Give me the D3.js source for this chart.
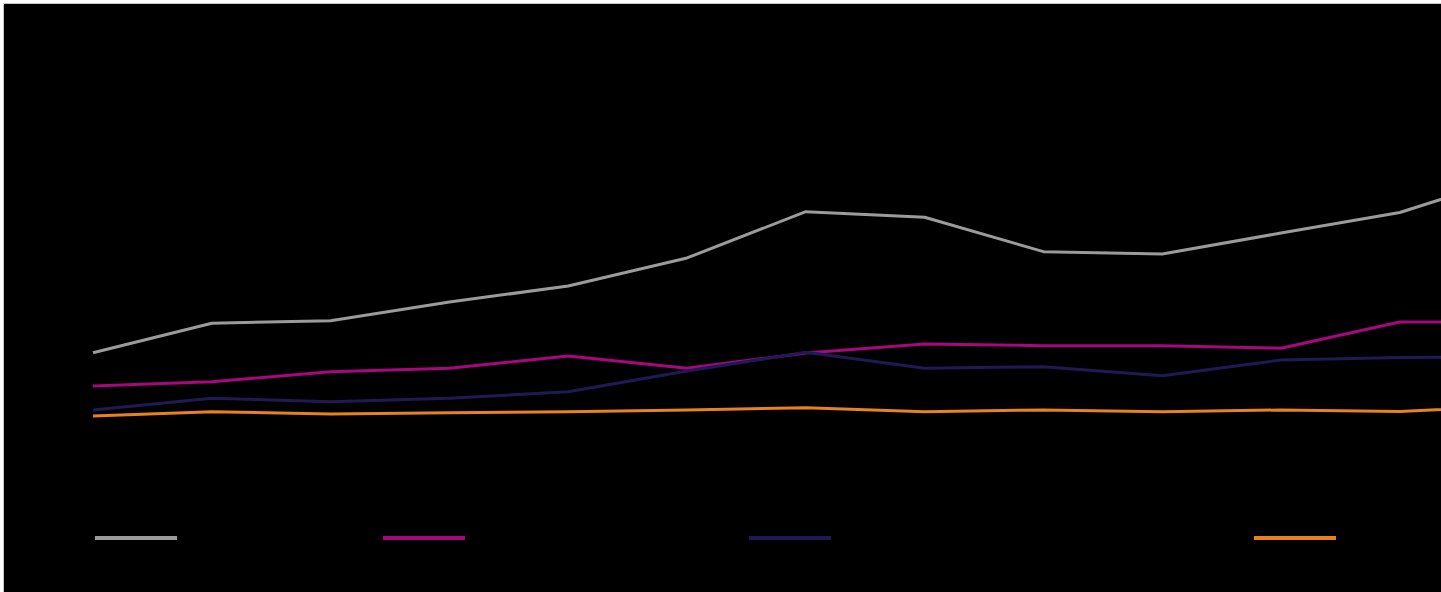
<!DOCTYPE html>
<html>
<head>
<meta charset="utf-8">
<script src="https://cdn.jsdelivr.net/npm/d3@7"></script>
<style>
  body { margin: 0; background: #fff; }
  svg { display: block; }
</style>
</head>
<body>
<svg id="chart"></svg>
<script>
// periods (13th one runs off the right edge)
const periods = d3.range(13);

const seriesNames = ['Series 1', 'Series 2', 'Series 3', 'Series 4'];
const seriesColors = ['#9b9b9b', '#a8077f', '#1f1a55', '#e8821e'];

const greyValues = [13.03, 16.30, 16.59, 18.67, 20.44, 23.56, 28.70, 28.08, 24.26, 24.00, 26.33, 28.61, 32.83];
const magentaValues = [9.33, 9.81, 10.92, 11.30, 12.67, 11.30, 13.00, 14.00, 13.81, 13.81, 13.52, 16.44, 16.44];
const navyValues = [6.67, 7.97, 7.59, 7.97, 8.70, 11.00, 13.08, 11.30, 11.48, 10.48, 12.22, 12.50, 12.61];
const orangeValues = [6.00, 6.48, 6.22, 6.37, 6.48, 6.67, 6.92, 6.48, 6.67, 6.48, 6.67, 6.50, 7.11];

const allSeries = [greyValues, magentaValues, navyValues, orangeValues];

const W = 1441, H = 592;
const svg = d3.select('#chart').attr('width', W).attr('height', H);

// frame
svg.append('rect')
    .attr('x', 3.5).attr('y', 3.5)
    .attr('width', W).attr('height', H)
    .attr('fill', '#000')
    .attr('stroke', '#c4c4c4')
    .attr('stroke-width', 1);

const x = d3.scaleLinear()
    .domain([0, 12])
    .range([93, 93 + 12 * 118.8]);

const y = d3.scaleLinear()
    .domain([0, 50])
    .range([470, 20]);

svg.append('clipPath').attr('id', 'plotclip')
    .append('rect').attr('x', 4).attr('y', 4).attr('width', W - 4).attr('height', H - 4);

const line = d3.line()
    .x((d, i) => x(periods[i]))
    .y(d => y(d));

svg.append('g')
    .attr('clip-path', 'url(#plotclip)')
    .selectAll('path')
    .data(allSeries)
    .enter().append('path')
    .attr('d', d => line(d))
    .attr('fill', 'none')
    .attr('stroke', (d, i) => seriesColors[i])
    .attr('stroke-width', 3)
    .attr('stroke-linejoin', 'round');

// legend (labels are drawn black on black, as in the source)
const legendX = [95, 383, 749, 1254];
const legend = svg.append('g')
    .selectAll('g')
    .data(seriesNames)
    .enter().append('g')
    .attr('transform', (d, i) => `translate(${legendX[i]},538)`);

legend.append('line')
    .attr('x1', 0).attr('x2', 82)
    .attr('stroke', (d, i) => seriesColors[i])
    .attr('stroke-width', 4);
</script>
</body>
</html>
